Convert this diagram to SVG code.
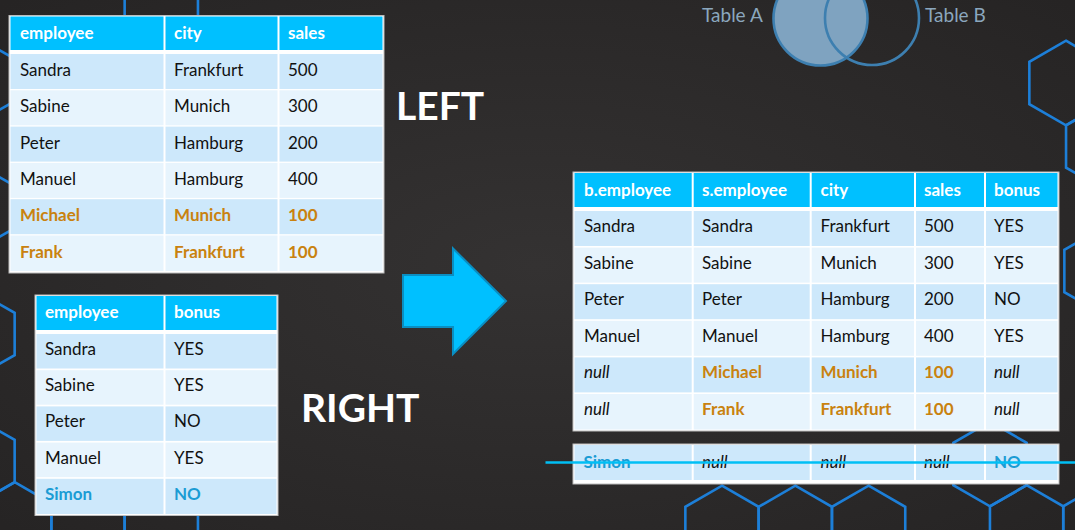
<svg xmlns="http://www.w3.org/2000/svg" xmlns:xlink="http://www.w3.org/1999/xlink" width="1075" height="530" viewBox="0 0 1075 530">
<defs>
<radialGradient id="bg" cx="50%" cy="50%" r="70%">
<stop offset="0" stop-color="#343232"/>
<stop offset="1" stop-color="#262424"/>
</radialGradient>
<path id="hex" d="M0,-42.3 L36.65,-21.15 L36.65,21.15 L0,42.3 L-36.65,21.15 L-36.65,-21.15 Z"/>
<style>
.hx{fill:none;stroke:#1d7fd8;stroke-width:2.6}
.frame{fill:#ffffff;stroke:#bdbdbd;stroke-width:1}
.h{fill:#00c0ff}
.d{fill:#cde8fb}
.l{fill:#e7f4fd}
text{font-family:Lato,"Open Sans","Liberation Sans",sans-serif;font-size:17px;fill:#111111}
.ht{font-weight:bold;fill:#ffffff}
.or{font-weight:bold;fill:#c9820f}
.bl{font-weight:bold;fill:#1b9cd4}
.it{font-style:italic}
.big{font-weight:bold;font-size:39px;fill:#ffffff}
.ven{font-size:19px;fill:#8ba7be}
</style>
</defs>
<rect x="0" y="0" width="1075" height="530" fill="url(#bg)"/>
<g id="background-hexagons">
<use xlink:href="#hex" href="#hex" class="hx" x="-22" y="80"/>
<use xlink:href="#hex" href="#hex" class="hx" x="-22" y="207"/>
<use xlink:href="#hex" href="#hex" class="hx" x="-22" y="334"/>
<use xlink:href="#hex" href="#hex" class="hx" x="-22" y="461"/>
<use xlink:href="#hex" href="#hex" class="hx" x="14.7" y="524.5"/>
<use xlink:href="#hex" href="#hex" class="hx" x="88" y="524.5"/>
<use xlink:href="#hex" href="#hex" class="hx" x="161.3" y="524.5"/>
<use xlink:href="#hex" href="#hex" class="hx" x="161.3" y="16.5"/>
<use xlink:href="#hex" href="#hex" class="hx" x="1066" y="83"/>
<use xlink:href="#hex" href="#hex" class="hx" x="1102.7" y="146.5"/>
<use xlink:href="#hex" href="#hex" class="hx" x="1101" y="271"/>
<use xlink:href="#hex" href="#hex" class="hx" x="990" y="464"/>
<use xlink:href="#hex" href="#hex" class="hx" x="1026.6" y="527.5"/>
<use xlink:href="#hex" href="#hex" class="hx" x="1099.9" y="527.5"/>
<use xlink:href="#hex" href="#hex" class="hx" x="722" y="528"/>
<use xlink:href="#hex" href="#hex" class="hx" x="795.3" y="528"/>
<use xlink:href="#hex" href="#hex" class="hx" x="868.6" y="528"/>
</g>
<g id="venn">
<circle cx="820.5" cy="18.5" r="47" fill="#7fa3c0" stroke="#3d7fb0" stroke-width="2.6"/>
<circle cx="872" cy="18" r="47" fill="none" stroke="#3d7fb0" stroke-width="2.6"/>
<text class="ven" x="702" y="22">Table A</text>
<text class="ven" x="925" y="22">Table B</text>
</g>
<g id="table-left">
<rect class="frame" x="9" y="15.5" width="375" height="257.5"/>
<rect class="h" x="10.5" y="16.5" width="153" height="33.5"/>
<rect class="h" x="165.5" y="16.5" width="112" height="33.5"/>
<rect class="h" x="279.5" y="16.5" width="103" height="33.5"/>
<g class="d"><rect x="10.5" y="54" width="153" height="35"/><rect x="165.5" y="54" width="112" height="35"/><rect x="279.5" y="54" width="103" height="35"/></g>
<g class="l"><rect x="10.5" y="90.3" width="153" height="35"/><rect x="165.5" y="90.3" width="112" height="35"/><rect x="279.5" y="90.3" width="103" height="35"/></g>
<g class="d"><rect x="10.5" y="126.6" width="153" height="35"/><rect x="165.5" y="126.6" width="112" height="35"/><rect x="279.5" y="126.6" width="103" height="35"/></g>
<g class="l"><rect x="10.5" y="162.9" width="153" height="35"/><rect x="165.5" y="162.9" width="112" height="35"/><rect x="279.5" y="162.9" width="103" height="35"/></g>
<g class="d"><rect x="10.5" y="199.2" width="153" height="35"/><rect x="165.5" y="199.2" width="112" height="35"/><rect x="279.5" y="199.2" width="103" height="35"/></g>
<g class="l"><rect x="10.5" y="235.5" width="153" height="35.5"/><rect x="165.5" y="235.5" width="112" height="35.5"/><rect x="279.5" y="235.5" width="103" height="35.5"/></g>
<text class="ht" x="20" y="38.5">employee</text><text class="ht" x="174" y="38.5">city</text><text class="ht" x="288" y="38.5">sales</text>
<text x="20" y="76">Sandra</text><text x="174" y="76">Frankfurt</text><text x="288" y="76">500</text>
<text x="20" y="112.3">Sabine</text><text x="174" y="112.3">Munich</text><text x="288" y="112.3">300</text>
<text x="20" y="148.6">Peter</text><text x="174" y="148.6">Hamburg</text><text x="288" y="148.6">200</text>
<text x="20" y="184.9">Manuel</text><text x="174" y="184.9">Hamburg</text><text x="288" y="184.9">400</text>
<text class="or" x="20" y="221.2">Michael</text><text class="or" x="174" y="221.2">Munich</text><text class="or" x="288" y="221.2">100</text>
<text class="or" x="20" y="257.5">Frank</text><text class="or" x="174" y="257.5">Frankfurt</text><text class="or" x="288" y="257.5">100</text>
</g>
<g id="table-right">
<rect class="frame" x="35" y="295" width="243" height="220.5"/>
<rect class="h" x="36.5" y="296" width="127" height="34"/>
<rect class="h" x="165.5" y="296" width="111" height="34"/>
<g class="d"><rect x="36.5" y="334" width="127" height="34.5"/><rect x="165.5" y="334" width="111" height="34.5"/></g>
<g class="l"><rect x="36.5" y="370.2" width="127" height="34.5"/><rect x="165.5" y="370.2" width="111" height="34.5"/></g>
<g class="d"><rect x="36.5" y="406.4" width="127" height="34.5"/><rect x="165.5" y="406.4" width="111" height="34.5"/></g>
<g class="l"><rect x="36.5" y="442.6" width="127" height="34.5"/><rect x="165.5" y="442.6" width="111" height="34.5"/></g>
<g class="d"><rect x="36.5" y="478.8" width="127" height="35.2"/><rect x="165.5" y="478.8" width="111" height="35.2"/></g>
<text class="ht" x="45" y="318">employee</text><text class="ht" x="174" y="318">bonus</text>
<text x="45" y="355">Sandra</text><text x="174" y="355">YES</text>
<text x="45" y="391.2">Sabine</text><text x="174" y="391.2">YES</text>
<text x="45" y="427.4">Peter</text><text x="174" y="427.4">NO</text>
<text x="45" y="463.6">Manuel</text><text x="174" y="463.6">YES</text>
<text class="bl" x="45" y="499.8">Simon</text><text class="bl" x="174" y="499.8">NO</text>
</g>
<g id="label-left"><text class="big" x="396" y="120">LEFT</text></g>
<g id="label-right"><text class="big" x="301" y="422">RIGHT</text></g>
<g id="connectors">
<polygon points="403,275 453,275 453,248.5 506,301 453,354 453,327 403,327" fill="#00c0ff" stroke="#0a8ec2" stroke-width="2"/>
</g>
<g id="table-result">
<rect class="frame" x="573" y="172" width="486" height="259"/>
<g class="h"><rect x="574.5" y="173" width="117.2" height="34"/><rect x="693.7" y="173" width="116" height="34"/><rect x="811.7" y="173" width="102.3" height="34"/><rect x="916" y="173" width="68" height="34"/><rect x="986" y="173" width="71.5" height="34"/></g>
<g class="d"><rect x="574.5" y="211" width="117.2" height="35"/><rect x="693.7" y="211" width="116" height="35"/><rect x="811.7" y="211" width="102.3" height="35"/><rect x="916" y="211" width="68" height="35"/><rect x="986" y="211" width="71.5" height="35"/></g>
<g class="l"><rect x="574.5" y="247.6" width="117.2" height="35"/><rect x="693.7" y="247.6" width="116" height="35"/><rect x="811.7" y="247.6" width="102.3" height="35"/><rect x="916" y="247.6" width="68" height="35"/><rect x="986" y="247.6" width="71.5" height="35"/></g>
<g class="d"><rect x="574.5" y="284.2" width="117.2" height="35"/><rect x="693.7" y="284.2" width="116" height="35"/><rect x="811.7" y="284.2" width="102.3" height="35"/><rect x="916" y="284.2" width="68" height="35"/><rect x="986" y="284.2" width="71.5" height="35"/></g>
<g class="l"><rect x="574.5" y="320.8" width="117.2" height="35"/><rect x="693.7" y="320.8" width="116" height="35"/><rect x="811.7" y="320.8" width="102.3" height="35"/><rect x="916" y="320.8" width="68" height="35"/><rect x="986" y="320.8" width="71.5" height="35"/></g>
<g class="d"><rect x="574.5" y="357.4" width="117.2" height="35"/><rect x="693.7" y="357.4" width="116" height="35"/><rect x="811.7" y="357.4" width="102.3" height="35"/><rect x="916" y="357.4" width="68" height="35"/><rect x="986" y="357.4" width="71.5" height="35"/></g>
<g class="l"><rect x="574.5" y="394" width="117.2" height="35.5"/><rect x="693.7" y="394" width="116" height="35.5"/><rect x="811.7" y="394" width="102.3" height="35.5"/><rect x="916" y="394" width="68" height="35.5"/><rect x="986" y="394" width="71.5" height="35.5"/></g>
<text class="ht" x="584" y="195.5">b.employee</text><text class="ht" x="702" y="195.5">s.employee</text><text class="ht" x="820.5" y="195.5">city</text><text class="ht" x="924" y="195.5">sales</text><text class="ht" x="994" y="195.5">bonus</text>
<text x="584" y="232">Sandra</text><text x="702" y="232">Sandra</text><text x="820.5" y="232">Frankfurt</text><text x="924" y="232">500</text><text x="994" y="232">YES</text>
<text x="584" y="268.6">Sabine</text><text x="702" y="268.6">Sabine</text><text x="820.5" y="268.6">Munich</text><text x="924" y="268.6">300</text><text x="994" y="268.6">YES</text>
<text x="584" y="305.2">Peter</text><text x="702" y="305.2">Peter</text><text x="820.5" y="305.2">Hamburg</text><text x="924" y="305.2">200</text><text x="994" y="305.2">NO</text>
<text x="584" y="341.8">Manuel</text><text x="702" y="341.8">Manuel</text><text x="820.5" y="341.8">Hamburg</text><text x="924" y="341.8">400</text><text x="994" y="341.8">YES</text>
<text class="it" x="584" y="378.4">null</text><text class="or" x="702" y="378.4">Michael</text><text class="or" x="820.5" y="378.4">Munich</text><text class="or" x="924" y="378.4">100</text><text class="it" x="994" y="378.4">null</text>
<text class="it" x="584" y="415">null</text><text class="or" x="702" y="415">Frank</text><text class="or" x="820.5" y="415">Frankfurt</text><text class="or" x="924" y="415">100</text><text class="it" x="994" y="415">null</text>
</g>
<g id="row-excluded">
<rect class="frame" x="573" y="444" width="486" height="40"/>
<g class="d"><rect x="574.5" y="445" width="117.2" height="35"/><rect x="693.7" y="445" width="116" height="35"/><rect x="811.7" y="445" width="102.3" height="35"/><rect x="916" y="445" width="68" height="35"/><rect x="986" y="445" width="71.5" height="35"/></g>
<text class="bl" x="583.5" y="467.5">Simon</text><text class="it" x="702" y="467.5">null</text><text class="it" x="820.5" y="467.5">null</text><text class="it" x="924" y="467.5">null</text><text class="bl" x="994" y="467.5">NO</text>
<line x1="545.5" y1="462.5" x2="1075" y2="462.5" stroke="#00bff5" stroke-width="2.6"/>
</g>
</svg>
